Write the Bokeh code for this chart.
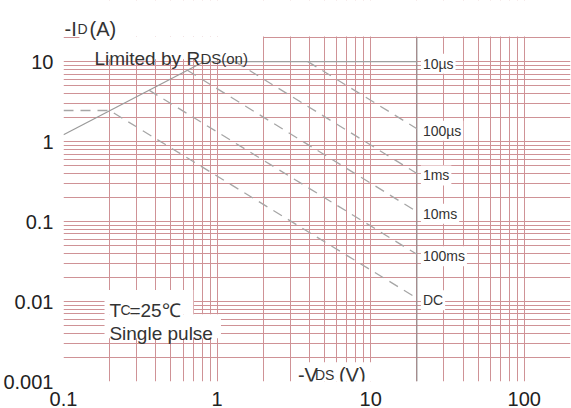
from bokeh.plotting import figure
from bokeh.models import FixedTicker, Label, BoxAnnotation, Range1d, CustomJSTickFormatter
from bokeh.embed import file_html
from bokeh.resources import INLINE

# ---------------- data ----------------
x_ticks = [0.1, 1, 10, 100]
y_ticks = [0.001, 0.01, 0.1, 1, 10]
x_minor = [m * 10.0 ** e for e in range(-1, 3) for m in range(2, 10) if m * 10.0 ** e <= 200]
y_minor = [m * 10.0 ** e for e in range(-3, 2) for m in range(2, 10) if m * 10.0 ** e <= 20]

# RDS(on) limit line
rds_v = [0.1, 0.82]
rds_i = [1.22, 10.0]

# VDSS limit
vdss_v = [20, 20]
vdss_i = [0.001, 20]

# pulse-width SOA curves
curve_labels = ["10µs", "100µs", "1ms", "10ms", "100ms", "DC"]
curve_v = [[0.82, 20], [3.9, 20], [1.31, 20], [0.64, 20], [0.36, 20], [0.1, 0.2, 20]]
curve_i = [[10, 10], [10, 1.45], [10, 0.40], [7.8, 0.133], [4.4, 0.039], [2.45, 2.45, 0.011]]

GRID = "#cf9296"
FONT = "Liberation Sans"
TXT = "#333333"

p = figure(width=571, height=408, x_axis_type="log", y_axis_type="log",
           x_range=Range1d(0.1, 200), y_range=Range1d(0.001, 58.2),
           output_backend="svg", toolbar_location=None,
           min_border_left=62, min_border_right=1, min_border_top=0, min_border_bottom=10)
p.background_fill_color = "white"
p.border_fill_color = "white"
p.outline_line_color = None

fmt = CustomJSTickFormatter(code="return tick.toString();")
for ax, tk, mn in ((p.xaxis, x_ticks, x_minor), (p.yaxis, y_ticks, y_minor)):
    ax.ticker = FixedTicker(ticks=tk, minor_ticks=mn)
    ax.formatter = fmt
    ax.axis_line_color = None
    ax.major_tick_line_color = None
    ax.minor_tick_line_color = None
    ax.major_label_text_font = FONT
    ax.major_label_text_font_size = "20px"
    ax.major_label_text_color = "#222222"
p.xaxis.major_label_standoff = 4
p.yaxis.major_label_standoff = 4

for g in (p.xgrid, p.ygrid):
    g.grid_line_color = GRID
    g.grid_line_width = 1
    g.minor_grid_line_color = GRID
    g.minor_grid_line_width = 1

# curves
p.line(rds_v, rds_i, line_color="#9a9a9a", line_width=1.2)
p.line(vdss_v, vdss_i, line_color="#8a8a8a", line_width=1)
for k, (vs, cs) in enumerate(zip(curve_v, curve_i)):
    if k == 0:
        p.line(vs, cs, line_color="#a0a0a0", line_width=1.2)
    else:
        p.line(vs, cs, line_color="#a6a6a6", line_width=1.3, line_dash="10 7")

# blank area above the chart (title zone)
p.add_layout(BoxAnnotation(bottom=20.6, fill_color="white", fill_alpha=1, line_color=None))

# white boxes behind composite texts
for l, r, b, t in ((0.127, 1.99, 10.7, 20.6), (0.185, 0.70, 0.00695, 0.0139),
                   (0.185, 1.06, 0.00347, 0.00695), (3.16, 10.45, 0.001, 0.00174)):
    p.add_layout(BoxAnnotation(left=l, right=r, bottom=b, top=t, fill_color="white",
                               fill_alpha=1, line_color=None))


def lab(x, y, text, size, dx=0, dy=0, **kw):
    p.add_layout(Label(x=x, y=y, text=text, x_offset=dx, y_offset=dy, text_font=FONT,
                       text_font_size=size, text_color=TXT,
                       text_baseline=kw.pop("baseline", "alphabetic"), **kw))


# -ID(A)
lab(0.1015, 25.4, "-I", "20px")
lab(0.1015, 25.4, "D", "14px", dx=13)
lab(0.1015, 25.4, "(A)", "20px", dx=25)

# Limited by RDS(on)
lab(0.159, 11.0, "Limited by ", "19px")
lab(0.159, 11.0, "R", "19px", dx=92)
lab(0.159, 11.0, "DS(on)", "15px", dx=106)

# Tc=25C / Single pulse
lab(0.199, 0.0078, "T", "19px")
lab(0.199, 0.0078, "C", "14px", dx=11)
lab(0.199, 0.0078, "=25℃", "19px", dx=20)
lab(0.199, 0.00401, "Single pulse", "19px")

# -VDS (V)
lab(3.36, 0.00122, "-V", "20px")
lab(3.36, 0.00122, "DS", "14px", dx=17)
lab(3.36, 0.00122, "(V)", "20px", dx=41)

# curve end labels
for name, vs, cs in zip(curve_labels, curve_v, curve_i):
    lab(vs[-1], cs[-1], name, "14px", dx=4, dy=-2, baseline="middle",
        background_fill_color="white", padding=2)

open("out.html", "w").write(file_html(p, INLINE))
